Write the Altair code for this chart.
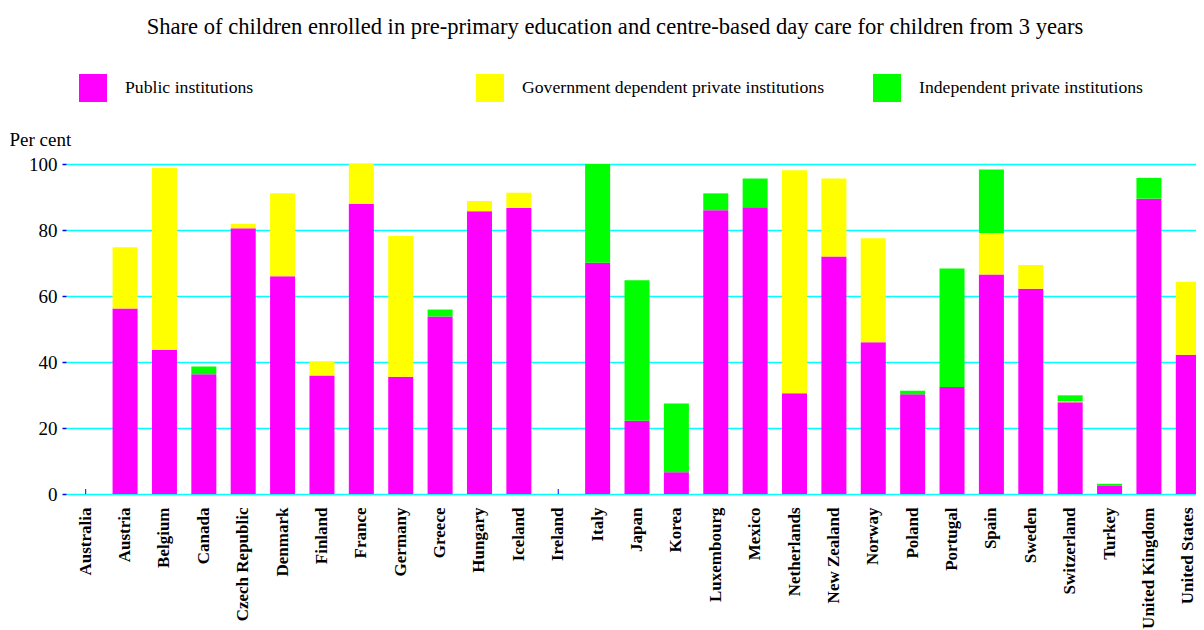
import altair as alt
import pandas as pd

countries = ["Australia", "Austria", "Belgium", "Canada", "Czech Republic", "Denmark",
             "Finland", "France", "Germany", "Greece", "Hungary", "Iceland", "Ireland",
             "Italy", "Japan", "Korea", "Luxembourg", "Mexico", "Netherlands",
             "New Zealand", "Norway", "Poland", "Portugal", "Spain", "Sweden",
             "Switzerland", "Turkey", "United Kingdom", "United States"]

public = [None, 56.2, 43.7, 36.3, 80.5, 66.0, 35.9, 87.9, 35.5, 53.8, 85.7, 86.7, None,
          70.1, 22.2, 6.6, 86.0, 86.9, 30.5, 72.0, 46.0, 30.2, 32.4, 66.5, 62.2,
          27.8, 2.6, 89.5, 42.2]
gov_dependent = [None, 18.6, 55.2, 0.0, 1.4, 25.1, 4.2, 12.1, 42.7, 0.0, 3.1, 4.6, None,
                 0.0, 0.0, 0.0, 0.0, 0.0, 67.6, 23.6, 31.5, 0.0, 0.0, 12.6, 7.2,
                 0.3, 0.0, 0.0, 22.1]
independent = [None, 0.0, 0.0, 2.3, 0.0, 0.0, 0.0, 0.0, 0.0, 2.1, 0.0, 0.0, None,
               29.9, 42.6, 20.8, 5.1, 8.7, 0.0, 0.0, 0.0, 1.1, 35.9, 19.2, 0.0,
               1.8, 0.5, 6.3, 0.0]

series = ["Public institutions", "Government dependent private institutions",
          "Independent private institutions"]
colors = ["#FF00FF", "#FFFF00", "#00FF00"]

rows = []
for i, c in enumerate(countries):
    for k, vals in enumerate([public, gov_dependent, independent]):
        v = vals[i]
        if v is not None and v > 0:
            rows.append({"country": c, "series": series[k], "order": k, "value": v})
df = pd.DataFrame(rows)
ticks_df = pd.DataFrame({"country": countries})

PLOT_W = 1130
PLOT_H = 330
FULL_RANGE = 1142

xscale = alt.Scale(domain=countries, range=[0, FULL_RANGE],
                   paddingInner=0.365, paddingOuter=0.1825)
xaxis = alt.Axis(title=None, labelAngle=270, labelFont="Liberation Serif",
                 labelFontWeight="bold", labelFontSize=17, labelColor="#000000",
                 labelPadding=13, domain=False, ticks=False, labelLimit=300)

ticks = alt.Chart(ticks_df).mark_rule(color="#0000FF", strokeWidth=1).encode(
    x=alt.X("country:N", sort=countries, scale=xscale, axis=xaxis),
    y=alt.datum(0),
    y2=alt.value(PLOT_H - 5),
)

bars = alt.Chart(df).mark_bar(clip=True).encode(
    x=alt.X("country:N", sort=countries, scale=xscale, axis=xaxis),
    y=alt.Y("value:Q", stack="zero",
            scale=alt.Scale(domain=[0, 100], nice=False),
            axis=alt.Axis(values=[0, 20, 40, 60, 80, 100], title="Per cent",
                          titleAngle=0, titleAlign="left", titleBaseline="alphabetic",
                          titleX=-57, titleY=-19, titleFont="Liberation Serif",
                          titleFontSize=19, titleFontWeight="normal", titleColor="#000000",
                          labelFont="Liberation Serif", labelFontSize=19, labelColor="#000000",
                          labelPadding=5, tickColor="#0000FF", tickSize=4, tickWidth=1.5,
                          domain=False, grid=True, gridColor="#00FFFF", gridWidth=1.5)),
    color=alt.Color("series:N", scale=alt.Scale(domain=series, range=colors),
                    legend=alt.Legend(title=None, orient="none", legendX=13, legendY=-90,
                                      direction="horizontal", columns=3, gridAlign="all",
                                      columnPadding=48, symbolType="square", symbolSize=784,
                                      symbolStrokeWidth=0, symbolOpacity=1,
                                      labelFont="Liberation Serif", labelFontSize=17.7,
                                      labelColor="#000000", labelOffset=18, padding=0,
                                      labelLimit=400)),
    order=alt.Order("order:Q"),
)

chart = alt.layer(ticks, bars).properties(
    width=PLOT_W,
    height=PLOT_H,
    autosize=alt.AutoSizeParams(type="none"),
    padding={"left": 58, "top": 156, "right": 0, "bottom": 136},
    title=alt.TitleParams(
        "Share of children enrolled in pre-primary education and centre-based day care for children from 3 years",
        font="Liberation Serif", fontSize=22.6, fontWeight="normal", color="#000000",
        anchor="middle", dx=-16, offset=35),
).configure_view(stroke=None)

chart.save("out.html", embed_options={"renderer": "svg", "actions": False})
